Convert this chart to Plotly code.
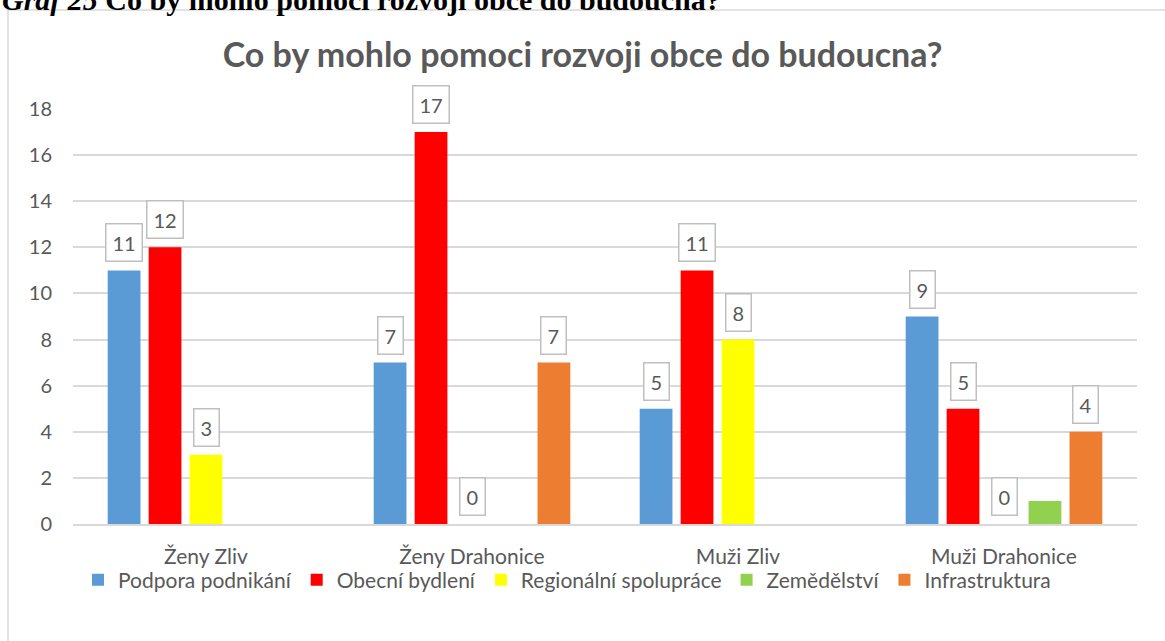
import plotly.graph_objects as go

categories = ["Ženy Zliv", "Ženy Drahonice", "Muži Zliv", "Muži Drahonice"]
series_names = ["Podpora podnikání", "Obecní bydlení", "Regionální spolupráce", "Zemědělství", "Infrastruktura"]
podpora = [11, 7, 5, 9]
bydleni = [12, 17, 11, 5]
regionalni = [3, 0, 8, 0]
zemedelstvi = [None, None, None, 1]
infrastruktura = [None, 7, None, 4]
series_values = [podpora, bydleni, regionalni, zemedelstvi, infrastruktura]
series_colors = ["#5B9BD5", "#FF0000", "#FFFF00", "#92D050", "#ED7D31"]
show_labels = [True, True, True, False, True]
y_ticks = [0, 2, 4, 6, 8, 10, 12, 14, 16, 18]

FONT = "Lato"
GREY = "#595959"
W, H = 1165, 641
ML, MR, MT, MB = 73, 28, 109, 117
BARGAP = 0.23
BARGROUPGAP = 0.2

x_idx = list(range(len(categories)))
n = len(series_names)
slot = (1 - BARGAP) / n

fig = go.Figure()
annotations = []
for k, (name, vals, col) in enumerate(zip(series_names, series_values, series_colors)):
    fig.add_trace(go.Bar(
        x=x_idx, y=vals, name=name, marker=dict(color=col, line=dict(width=0)),
        hoverinfo="y+name",
    ))
    if not show_labels[k]:
        continue
    for i, v in enumerate(vals):
        if v is None:
            continue
        annotations.append(dict(
            x=i + (k - (n - 1) / 2) * slot, y=v, xref="x", yref="y",
            text=str(v), showarrow=False, yanchor="bottom", xanchor="center",
            yshift=8, font=dict(family=FONT, size=20, color=GREY),
            bgcolor="white", bordercolor="#BFBFBF", borderwidth=1.5, borderpad=6,
        ))

plot_h = H - MT - MB
plot_w = W - ML - MR
def px_to_paper_y(p):
    return (H - MB - p) / plot_h
def px_to_paper_x(p):
    return (p - ML) / plot_w

annotations.append(dict(
    text="<b><i>Graf 25</i> Co by mohlo pomoci rozvoji obce do budoucna?</b>",
    x=px_to_paper_x(0), y=px_to_paper_y(18), xref="paper", yref="paper",
    xanchor="left", yanchor="bottom", showarrow=False,
    font=dict(family="Liberation Serif", size=30, color="black"),
))

fig.update_layout(
    annotations=annotations,
    width=W, height=H,
    margin=dict(l=ML, r=MR, t=MT, b=MB),
    paper_bgcolor="white", plot_bgcolor="white",
    barmode="group", bargap=BARGAP, bargroupgap=BARGROUPGAP,
    title=dict(text="<b>Co by mohlo pomoci rozvoji obce do budoucna?</b>",
               x=0.5, xanchor="center", y=1 - 55 / H, yanchor="middle",
               font=dict(family=FONT, size=34, color=GREY)),
    font=dict(family=FONT, size=20, color=GREY),
    xaxis=dict(range=[-0.5, len(categories) - 0.5], tickvals=x_idx, ticktext=categories,
               showgrid=False, zeroline=False, showline=True, linecolor="#D9D9D9", linewidth=1.5,
               ticks="", ticklabelstandoff=13,
               tickfont=dict(family=FONT, size=21, color=GREY)),
    yaxis=dict(range=[0, 18], tickvals=y_ticks, showgrid=True, gridcolor="#D9D9D9", gridwidth=1.5,
               zeroline=False, showline=False, ticks="", ticklabelstandoff=20,
               tickfont=dict(family=FONT, size=20, color=GREY)),
    legend=dict(orientation="h", x=px_to_paper_x(567), xanchor="center", y=px_to_paper_y(580), yanchor="middle",
                font=dict(family=FONT, size=21, color=GREY), itemwidth=30,
                bgcolor="rgba(0,0,0,0)", traceorder="normal"),
    shapes=[dict(type="rect", xref="paper", yref="paper",
                 x0=px_to_paper_x(8), x1=px_to_paper_x(1175),
                 y0=px_to_paper_y(660), y1=px_to_paper_y(10),
                 line=dict(color="#D9D9D9", width=1.5), fillcolor="rgba(0,0,0,0)", layer="below")],
)

fig.write_html("out.html", config={"displayModeBar": False},
               post_script="document.body.style.margin='0';document.body.style.overflow='hidden';")
